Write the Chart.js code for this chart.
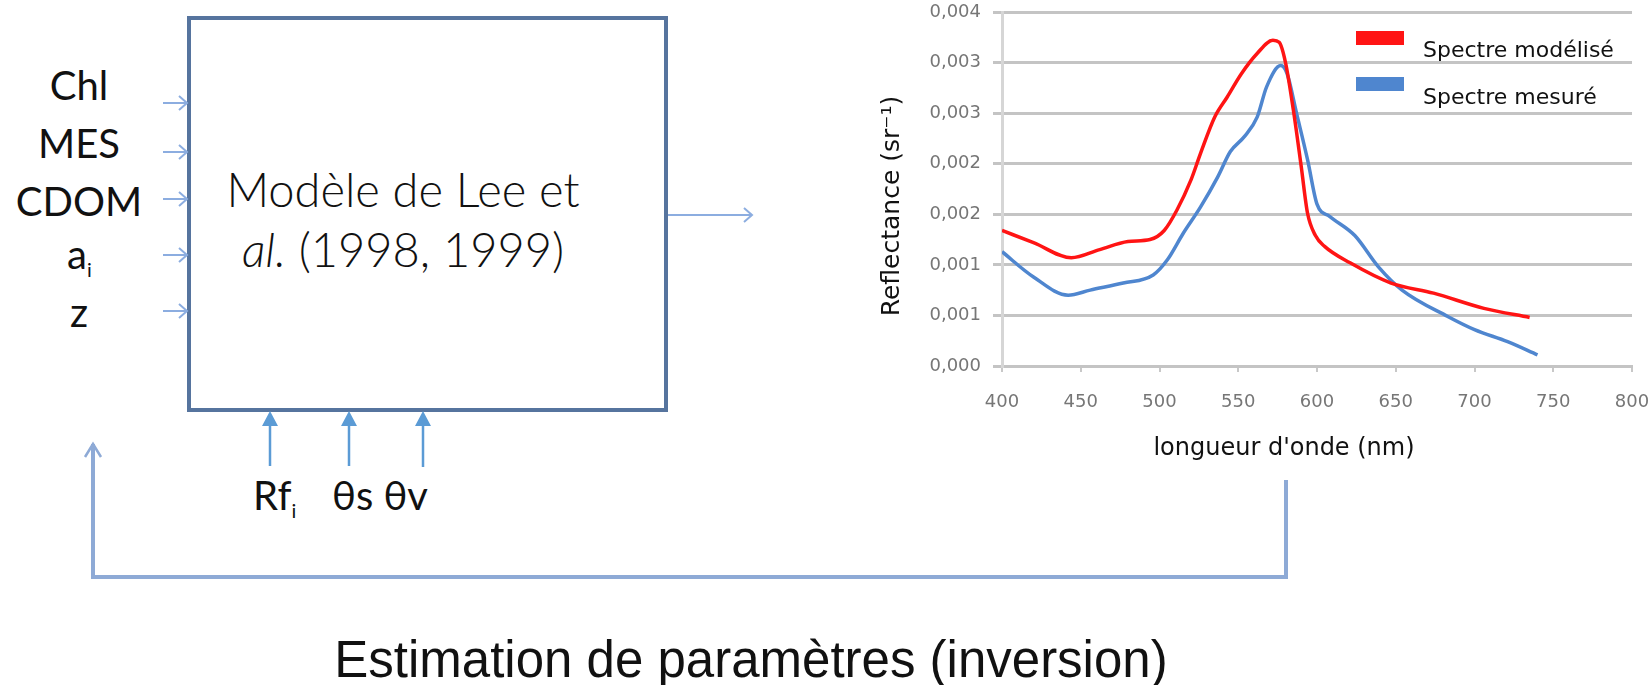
<!DOCTYPE html>
<html>
<head>
<meta charset="utf-8">
<script src="https://cdn.jsdelivr.net/npm/chart.js@4.4.1/dist/chart.umd.min.js"></script>
<style>
  html, body { margin: 0; padding: 0; background: #fff; }
  #page { position: relative; width: 1652px; height: 685px; overflow: hidden; }
  #diagram { position: absolute; left: 0; top: 0; }
  #chartBox { position: absolute; left: 860px; top: 0; width: 792px; height: 470px; }
  #chartBox canvas { display: block; }
  .lbl { font-family: Lato, "Noto Sans", sans-serif; font-size: 40px; fill: #111; }
  .box { font-family: Lato, "Noto Sans", sans-serif; font-size: 47px; font-weight: 300; fill: #111; }
</style>
</head>
<body>
<div id="page">
  <svg id="diagram" width="1652" height="685">
    <!-- model box -->
    <rect x="189" y="18" width="477" height="392" fill="none" stroke="#56749e" stroke-width="4"/>

    <!-- input arrows -->
    <g stroke="#8cade0" stroke-width="2" fill="none">
      <path d="M163 103 H187 M179 96 L187 103 L179 110"/>
      <path d="M163 152 H187 M179 145 L187 152 L179 159"/>
      <path d="M163 199 H187 M179 192 L187 199 L179 206"/>
      <path d="M163 255 H187 M179 248 L187 255 L179 262"/>
      <path d="M163 311 H187 M179 304 L187 311 L179 318"/>
      <!-- output arrow -->
      <path d="M668 215 H752 M744 208 L752 215 L744 222"/>
    </g>

    <!-- bottom arrows -->
    <g stroke="#5b9bd5" stroke-width="2.5" fill="#5b9bd5">
      <line x1="270" y1="466" x2="270" y2="424"/>
      <line x1="349" y1="466" x2="349" y2="424"/>
      <line x1="423" y1="467" x2="423" y2="424"/>
      <polygon stroke="none" points="262,426 278,426 270,411"/>
      <polygon stroke="none" points="341,426 357,426 349,411"/>
      <polygon stroke="none" points="415,426 431,426 423,411"/>
    </g>

    <!-- feedback loop -->
    <g stroke="#8eaad6" stroke-width="4" fill="none">
      <path d="M1286 480 V577 H93 V444"/>
      <path d="M85 457 L93 444 L101 457" stroke-width="2.5"/>
    </g>

    <!-- labels -->
    <text class="lbl" x="79" y="100" text-anchor="middle">Chl</text>
    <text class="lbl" x="79" y="158" text-anchor="middle">MES</text>
    <text class="lbl" x="79" y="216" text-anchor="middle">CDOM</text>
    <text class="lbl" x="67" y="269">a<tspan font-size="20" dy="8">i</tspan></text>
    <text class="lbl" x="79" y="327" text-anchor="middle">z</text>

    <text class="box" x="403" y="207" text-anchor="middle">Modèle de Lee et</text>
    <text class="box" x="403" y="267" text-anchor="middle"><tspan font-style="italic">al.</tspan> (1998, 1999)</text>

    <text class="lbl" x="253" y="510">Rf<tspan font-size="20" dy="8">i</tspan></text>
    <text class="lbl" x="332" y="510">θs θv</text>

    <text x="751" y="677" text-anchor="middle" font-family="'Liberation Sans', Arial, sans-serif" font-size="51" fill="#111">Estimation de paramètres (inversion)</text>
  </svg>

  <div id="chartBox"><canvas id="spectre" width="792" height="470"></canvas></div>
</div>

<script>
// Spectre modélisé (rouge)
const modelWavelengths = [400, 420, 444, 462, 480, 494, 503, 511, 520, 526, 535, 543, 552, 562, 572, 576, 580, 585, 590, 594, 599, 605, 621, 647, 674, 706, 735];
const modelReflectance = [0.00134, 0.00122, 0.00107, 0.00115, 0.00123, 0.00125, 0.00134, 0.00154, 0.00184, 0.00210, 0.00246, 0.00266, 0.00289, 0.00309, 0.00322, 0.00320, 0.00300, 0.00253, 0.00197, 0.00151, 0.00129, 0.00118, 0.00102, 0.00082, 0.00072, 0.00057, 0.00048];

// Spectre mesuré (bleu)
const measuredWavelengths = [400, 420, 442, 456, 477, 496, 505, 515, 526, 537, 545, 554, 562, 568, 577, 581, 587, 594, 600, 608, 624, 639, 654, 683, 700, 721, 740];
const measuredReflectance = [0.00113, 0.00088, 0.00070, 0.00075, 0.00082, 0.00090, 0.00105, 0.00131, 0.00157, 0.00187, 0.00212, 0.00227, 0.00246, 0.00276, 0.00297, 0.00289, 0.00250, 0.00204, 0.00160, 0.00148, 0.00129, 0.00098, 0.00075, 0.00049, 0.00036, 0.00024, 0.00011];

const seriesNames = ["Spectre modélisé", "Spectre mesuré"];
const seriesColors = ["#ff1414", "#4f86cf"];

const xTitle = "longueur d'onde (nm)";
const yTitle = "Reflectance (sr\u207B\u00B9)";

function toPoints(xs, ys) {
    return xs.map((x, i) => ({ x: x, y: ys[i] }));
}

// Excel style labels: 3 decimals, comma separator
function formatTick(v) {
    return (Math.round(v * 1000) / 1000).toFixed(3).replace(".", ",");
}

// legend and axis titles drawn where the original sits
const annotations = {
    id: "annotations",
    afterDraw(chart) {
        const ctx = chart.ctx;
        const area = chart.chartArea;
        ctx.save();
        ctx.fillStyle = "#111";

        // legend
        ctx.font = "22px 'DejaVu Sans'";
        ctx.textBaseline = "middle";
        ctx.textAlign = "left";
        const rows = [
            { ds: 0, box: 38, text: 51 },
            { ds: 1, box: 84, text: 98 },
        ];
        rows.forEach(r => {
            ctx.fillStyle = chart.data.datasets[r.ds].borderColor;
            ctx.fillRect(area.right - 276, r.box - 7, 48, 14);
            ctx.fillStyle = "#111";
            ctx.fillText(chart.data.datasets[r.ds].label, area.right - 209, r.text);
        });

        // x title
        ctx.font = "24px 'DejaVu Sans'";
        ctx.textAlign = "center";
        ctx.fillText(xTitle, 424, 449);

        // y title
        ctx.font = "25px 'DejaVu Sans'";
        ctx.translate(32, 206);
        ctx.rotate(-Math.PI / 2);
        ctx.fillText(yTitle, 0, 0);
        ctx.restore();
    }
};

const tickFont = { family: "'DejaVu Sans'", size: 18 };

new Chart("spectre", {
    type: "line",
    data: {
        datasets: [
            {
                label: seriesNames[0],
                data: toPoints(modelWavelengths, modelReflectance),
                borderColor: seriesColors[0],
                borderWidth: 3.5,
                pointRadius: 0,
                cubicInterpolationMode: "monotone",
                order: 0,
            },
            {
                label: seriesNames[1],
                data: toPoints(measuredWavelengths, measuredReflectance),
                borderColor: seriesColors[1],
                borderWidth: 3.5,
                pointRadius: 0,
                cubicInterpolationMode: "monotone",
                order: 1,
            },
        ],
    },
    options: {
        responsive: false,
        animation: false,
        layout: { padding: { top: 12, right: 20, left: 0, bottom: 0 } },
        plugins: {
            legend: { display: false },
            tooltip: { enabled: false },
        },
        scales: {
            x: {
                type: "linear",
                min: 400,
                max: 800,
                ticks: { stepSize: 50, font: tickFont, color: "#767676", padding: 20, maxRotation: 0 },
                grid: { drawOnChartArea: false, drawTicks: true, tickLength: 6, color: "#c8c8c8", lineWidth: 2 },
                border: { display: true, color: "#c4c4c4", width: 3 },
                afterFit: s => {
                    s.height = 104;
                    s.paddingLeft = 0;
                    s.paddingRight = 0;
                },
            },
            y: {
                min: 0,
                max: 0.0035,
                ticks: { stepSize: 0.0005, font: tickFont, color: "#767676", padding: 12, callback: formatTick },
                grid: { color: "#c4c4c4", lineWidth: 3, tickLength: 9 },
                border: { display: true, color: "#d6d6d6", width: 3 },
                afterFit: s => {
                    s.width = 142;
                    s.paddingTop = 0;
                    s.paddingBottom = 0;
                },
            },
        },
    },
    plugins: [annotations],
});
</script>
</body>
</html>
